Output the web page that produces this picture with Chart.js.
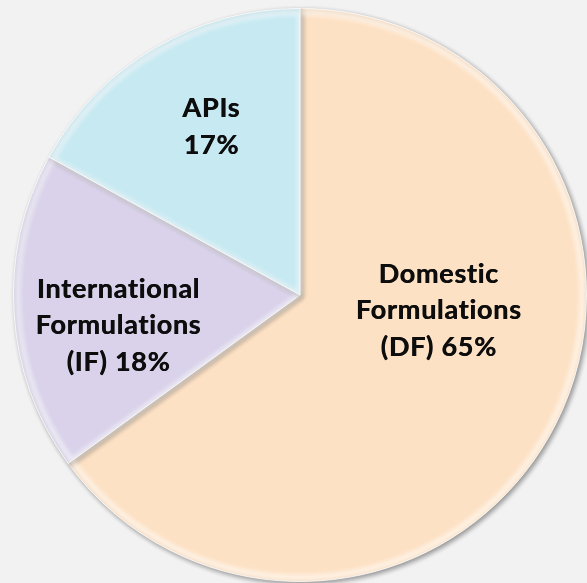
<!DOCTYPE html>
<html>
<head>
<meta charset="utf-8">
<script src="https://cdn.jsdelivr.net/npm/chart.js@4.4.1/dist/chart.umd.min.js"></script>
<style>
  html, body { margin: 0; padding: 0; background: #f2f2f2; }
  #wrap { width: 587px; height: 583px; }
</style>
</head>
<body>
<div id="wrap"><canvas id="pie" width="587" height="583"></canvas></div>
<script>
// revenue split by segment, clockwise from 12 o'clock
const segments = ['Domestic Formulations (DF)', 'International Formulations (IF)', 'APIs'];
const shares = [65, 18, 17];
const labelLines = [
    ['Domestic', 'Formulations', '(DF) 65%'],
    ['International', 'Formulations', '(IF) 18%'],
    ['APIs', '17%']
];
const fills = ['#fde1c4', '#d9d2ea', '#c6e9f2'];
const rims = ['#f5cca2', '#c5bbdd', '#acd9e6'];

// first-line anchor of each label, as a fraction of the radius from the centre
const labelAnchor = [[0.484, -0.042], [-0.634, 0.010], [-0.310, -0.620]];
const lineStep = 0.127;

function sliceFill(context) {
    const arc = context.element;
    const i = context.dataIndex;
    if (!arc || !arc.outerRadius) return fills[i];
    const g = context.chart.ctx.createRadialGradient(arc.x, arc.y, 0, arc.x, arc.y, arc.outerRadius);
    g.addColorStop(0, fills[i]);
    g.addColorStop(0.92, fills[i]);
    g.addColorStop(1, rims[i]);
    return g;
}

const softShadow = {
    id: 'softShadow',
    beforeDatasetsDraw(chart) {
        const ctx = chart.ctx;
        ctx.save();
        ctx.shadowColor = 'rgba(0, 0, 0, 0.4)';
        ctx.shadowBlur = 5;
        ctx.shadowOffsetX = 2;
        ctx.shadowOffsetY = 2;
    },
    afterDatasetsDraw(chart) {
        const ctx = chart.ctx;
        ctx.restore();
        // light bevel along the inside of each slice
        chart.getDatasetMeta(0).data.forEach(arc => {
            ctx.save();
            ctx.beginPath();
            ctx.moveTo(arc.x, arc.y);
            ctx.arc(arc.x, arc.y, arc.outerRadius, arc.startAngle, arc.endAngle);
            ctx.closePath();
            ctx.clip();
            ctx.strokeStyle = 'rgba(255, 255, 255, 0.55)';
            ctx.lineWidth = 6;
            ctx.filter = 'blur(2px)';
            ctx.beginPath();
            ctx.moveTo(arc.x, arc.y);
            ctx.arc(arc.x, arc.y, arc.outerRadius - 4, arc.startAngle, arc.endAngle);
            ctx.closePath();
            ctx.stroke();
            ctx.restore();
        });
    }
};

const sliceLabels = {
    id: 'sliceLabels',
    afterDraw(chart) {
        const ctx = chart.ctx;
        const arc = chart.getDatasetMeta(0).data[0];
        const r = arc.outerRadius;
        ctx.save();
        ctx.fillStyle = '#0d0d0d';
        ctx.font = 'bold 27px Lato, "DejaVu Sans", sans-serif';
        ctx.letterSpacing = '0.7px';
        ctx.textAlign = 'center';
        ctx.textBaseline = 'alphabetic';
        labelLines.forEach((lines, i) => {
            const x = arc.x + labelAnchor[i][0] * r;
            const y0 = arc.y + labelAnchor[i][1] * r;
            lines.forEach((t, k) => {
                ctx.fillText(t, x, y0 + k * lineStep * r);
                // second pass a hair to the right thickens the strokes
                ctx.fillText(t, x + 0.5, y0 + k * lineStep * r);
            });
        });
        ctx.restore();
    }
};

new Chart(document.getElementById('pie'), {
    type: 'pie',
    data: {
        labels: segments,
        datasets: [{
            data: shares,
            backgroundColor: sliceFill,
            borderColor: 'rgba(255, 255, 255, 0.8)',
            borderWidth: 1,
            hoverOffset: 0
        }]
    },
    options: {
        responsive: false,
        animation: false,
        layout: { padding: { left: 13, right: 0, top: 7, bottom: 0 } },
        plugins: {
            legend: { display: false },
            tooltip: { enabled: false }
        }
    },
    plugins: [softShadow, sliceLabels]
});
</script>
</body>
</html>
